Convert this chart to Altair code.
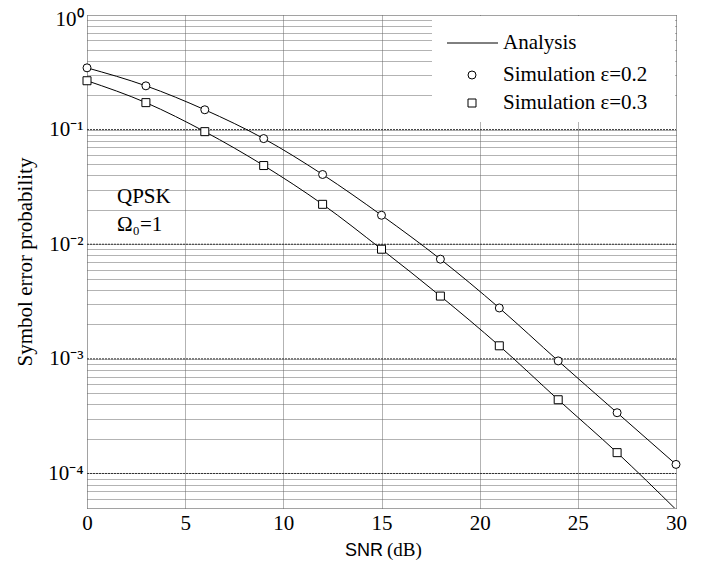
import altair as alt
import pandas as pd

# ---- data ----
snr_points = [0, 3, 6, 9, 12, 15, 18, 21, 24, 27, 30]
sim_e02 = [0.346, 0.241, 0.149, 0.0835, 0.0406, 0.0179, 0.00741, 0.00278, 9.6e-4, 3.39e-4, 1.2e-4]
sim_e03_snr = [0, 3, 6, 9, 12, 15, 18, 21, 24, 27]
sim_e03 = [0.267, 0.172, 0.096, 0.0486, 0.0223, 0.00905, 0.00353, 0.0013, 4.4e-4, 1.52e-4]

ana_snr = [0, 3, 6, 9, 12, 15, 18, 21, 24, 27, 30]
ana_e02 = [0.346, 0.241, 0.149, 0.0835, 0.0406, 0.0179, 0.00741, 0.00278, 9.6e-4, 3.39e-4, 1.2e-4]
ana_e03 = [0.267, 0.172, 0.096, 0.0486, 0.0223, 0.00905, 0.00353, 0.0013, 4.4e-4, 1.52e-4, 4.85e-5]

legend_names = ["Analysis", "Simulation ε=0.2", "Simulation ε=0.3"]
x_ticks = [0, 5, 10, 15, 20, 25, 30]
decades = [1e-4, 1e-3, 1e-2, 1e-1]
y_grid = [round(m * 10.0 ** k, 12) for k in range(-5, 0) for m in range(1, 10)] + [1.0]
y_grid = [v for v in y_grid if v >= 5e-5]

SERIF = "Liberation Serif"
FS = 21
W, H = 589, 493

sim_df = pd.DataFrame(
    {"snr": snr_points + sim_e03_snr,
     "p": sim_e02 + sim_e03,
     "series": [legend_names[1]] * len(sim_e02) + [legend_names[2]] * len(sim_e03)}
)
ana_df = pd.DataFrame(
    {"snr": ana_snr + ana_snr,
     "p": ana_e02 + ana_e03,
     "curve": ["e02"] * len(ana_e02) + ["e03"] * len(ana_e03)}
)
dec_df = pd.DataFrame({"p": decades})

x_scale = alt.Scale(domain=[0, 30], nice=False)
y_scale = alt.Scale(type="log", domain=[5e-5, 1], nice=False)
shape_scale = alt.Scale(domain=legend_names[1:], range=["circle", "square"])

label_expr = ("datum.value == 1 ? '10⁰' : datum.value == 0.1 ? '10⁻¹' : "
              "datum.value == 0.01 ? '10⁻²' : datum.value == 0.001 ? '10⁻³' : "
              "datum.value == 0.0001 ? '10⁻⁴' : ''")

x_axis = alt.Axis(values=x_ticks, title=None, grid=True, gridDash=[1, 1], gridColor="#666",
                  ticks=False, domain=False, labelFont=SERIF, labelFontSize=FS,
                  labelColor="black", labelPadding=4, labelFlush=False)
y_axis = alt.Axis(values=y_grid, labelExpr=label_expr, grid=True, gridDash=[1, 1],
                  gridColor="#666", ticks=False, domain=False, labelFont=SERIF,
                  labelFontSize=FS, labelColor="black", labelPadding=4,
                  labelFlush=True, labelFlushOffset=7,
                  title="Symbol error probability", titleFont=SERIF, titleFontSize=FS,
                  titleFontWeight="normal", titleColor="black", titleX=-62, titleY=H / 2,
                  titleAngle=270, titleAlign="center", titleBaseline="middle")

base_grid = alt.Chart(dec_df).mark_rule(color="#333", strokeWidth=1, strokeDash=[2, 1]).encode(
    x=alt.value(0), x2=alt.value(W),
    y=alt.Y("p:Q", scale=y_scale, axis=y_axis),
)

axis_x_layer = alt.Chart(ana_df).mark_line(opacity=0).encode(
    x=alt.X("snr:Q", scale=x_scale, axis=x_axis),
    y=alt.Y("p:Q", scale=y_scale),
    detail="curve:N",
)

one = pd.DataFrame({"k": [0]})

legend_bg = alt.Chart(one).mark_rect(color="white").encode(
    x=alt.value(345), x2=alt.value(588), y=alt.value(1), y2=alt.value(107)
)

lines = alt.Chart(ana_df).mark_line(color="black", strokeWidth=1, clip=True,
                                    interpolate="monotone").encode(
    x=alt.X("snr:Q", scale=x_scale),
    y=alt.Y("p:Q", scale=y_scale),
    detail="curve:N",
)

points = alt.Chart(sim_df).mark_point(filled=False, fill="white", fillOpacity=1,
                                      color="black", stroke="black",
                                      strokeWidth=1, size=64, opacity=1).encode(
    x=alt.X("snr:Q", scale=x_scale),
    y=alt.Y("p:Q", scale=y_scale),
    shape=alt.Shape("series:N", scale=shape_scale, legend=None),
)

# ---- legend (drawn in the plot's upper-right box) ----
leg_line = alt.Chart(one).mark_rule(color="black", strokeWidth=1).encode(
    x=alt.value(360), x2=alt.value(411), y=alt.value(28))
leg_circle = alt.Chart(one).mark_point(shape="circle", size=64, filled=False, color="black",
                                       strokeWidth=1, opacity=1).encode(
    x=alt.value(385), y=alt.value(60))
leg_square = alt.Chart(one).mark_point(shape="square", size=64, filled=False, color="black",
                                       strokeWidth=1, opacity=1).encode(
    x=alt.value(385), y=alt.value(88))
leg_texts = [
    alt.Chart(one).mark_text(font=SERIF, fontSize=FS, align="left", baseline="middle",
                             color="black").encode(
        x=alt.value(416), y=alt.value(yy), text=alt.value(name))
    for name, yy in zip(legend_names, [28, 60, 88])
]

ann1 = alt.Chart(one).mark_text(font=SERIF, fontSize=FS, align="left",
                                baseline="middle", color="black").encode(
    x=alt.value(30), y=alt.value(182), text=alt.value("QPSK"))
ann2 = alt.Chart(one).mark_text(font=SERIF, fontSize=FS, align="left",
                                baseline="middle", color="black").encode(
    x=alt.value(30), y=alt.value(210), text=alt.value("Ω₀=1"))

xt1 = alt.Chart(one).mark_text(font="Liberation Sans", fontSize=18, align="right",
                               baseline="alphabetic", color="black").encode(
    x=alt.value(296), y=alt.value(541), text=alt.value("SNR"))
xt2 = alt.Chart(one).mark_text(font=SERIF, fontSize=19, align="left",
                               baseline="alphabetic", color="black").encode(
    x=alt.value(300), y=alt.value(541), text=alt.value("(dB)"))

chart = alt.layer(axis_x_layer, base_grid, legend_bg, lines, points,
                  leg_line, leg_circle, leg_square, *leg_texts,
                  ann1, ann2, xt1, xt2).properties(
    width=W, height=H,
    autosize=alt.AutoSizeParams(type="none"),
    padding={"left": 79, "top": 7, "right": 29, "bottom": 52},
).configure_view(stroke="black", strokeWidth=1).configure(background="white")

chart.save("out.html", embed_options={"renderer": "svg", "actions": False})
